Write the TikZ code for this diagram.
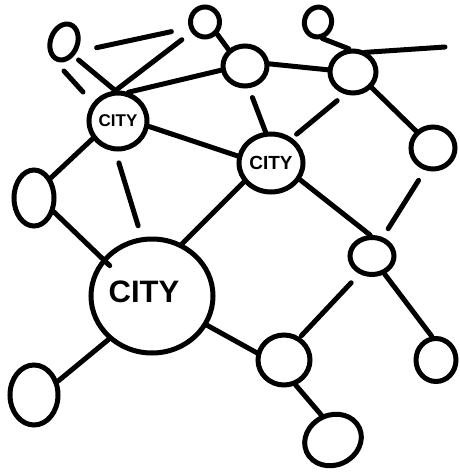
\documentclass[tikz,border=0pt]{standalone}
\usepackage{fontspec}
\setsansfont{Liberation Sans}
\usetikzlibrary{shapes.geometric}
\begin{document}
\begin{tikzpicture}[x=1pt,y=-1pt,
  town/.style={draw, ellipse, line width=5pt, inner sep=0pt},
  link/.style={line width=5pt, line cap=round},
  lbl/.style={font=\sffamily\bfseries}]
\useasboundingbox (0,0) rectangle (460,474);
% nodes
\node[town, minimum width=27, minimum height=37, rotate=-20] (A) at (64,42) {};
\node[town, minimum width=29, minimum height=30] (B1) at (205,22) {};
\node[town, minimum width=27, minimum height=30, rotate=-15] (B2) at (318,22) {};
\node[town, minimum width=44, minimum height=40] (C) at (245,66) {};
\node[town, minimum width=46, minimum height=42] (D) at (353,72) {};
\node[town, minimum width=58, minimum height=56] (City1) at (118,121) {};
\node[lbl, font=\sffamily\bfseries\fontsize{17}{17}\selectfont] at (City1) {CITY};
\node[town, minimum width=64, minimum height=58] (City2) at (271,163) {};
\node[lbl, font=\sffamily\bfseries\fontsize{19}{19}\selectfont] at (City2) {CITY};
\node[town, minimum width=44, minimum height=42] (E) at (433,148) {};
\node[town, minimum width=40, minimum height=56] (F) at (34,198) {};
\node[town, minimum width=122, minimum height=114] (Big) at (152,296) {};
\node[lbl, font=\sffamily\bfseries\fontsize{31}{31}\selectfont] at (144,292) {CITY};
\node[town, minimum width=44, minimum height=37] (G) at (372,256) {};
\node[town, minimum width=52, minimum height=50] (H) at (284,360) {};
\node[town, minimum width=40, minimum height=43] (I) at (436,360) {};
\node[town, minimum width=58, minimum height=50, rotate=25] (J) at (333,440) {};
\node[town, minimum width=48, minimum height=60] (K) at (34,395) {};
\coordinate (dx) at (445,47);
\coordinate (s1) at (64,71);
\coordinate (s2) at (83,92);
% connectors
\draw[link, shorten <=18pt, shorten >=18pt] ([yshift=-4pt]A.east) -- (B1.200);
\draw[link, shorten <=6pt] (A.-35) -- (City1.95);
\draw[link, shorten <=12pt] (B1) -- (City1.95);
\draw[link] (B1.-45) -- (C.135);
\draw[link] (City1.70) -- (C.190);
\draw[link] (s1) -- (s2);
\draw[link] (City1.-10) -- (City2.168);
\draw[link] (City1.215) -- (F.50);
\draw[link, shorten <=12pt, shorten >=12pt] (City1.-95) -- (Big.100);
\draw[link, shorten >=-10pt] (F.-35) -- (Big.143);
\draw[link] (Big.60) -- (City2.215);
\draw[link, shorten <=10pt] (C.-80) -- (City2.100);
\draw[link] (C.5) -- (D.175);
\draw[link, shorten <=10pt, shorten >=6pt] (D.-110) -- (City2.50);
\draw[link] (D.-40) -- (E.135);
\draw[link, shorten <=12pt, shorten >=10pt] (E.-110) -- (G.60);
\draw[link] (City2.-30) -- (G.95);
\draw[link] (G.-55) -- (I.100);
\draw[link, shorten <=12pt, shorten >=2pt] (G.-125) -- (H.55);
\draw[link] (Big.-28) -- (H.165);
\draw[link] (H.-65) -- (J.90);
\draw[link] (Big.-135) -- (K.30);
\draw[link] (B2.-60) -- (D.100);
\draw[link, shorten <=-2pt] (D.55) -- (dx);
\end{tikzpicture}
\end{document}
